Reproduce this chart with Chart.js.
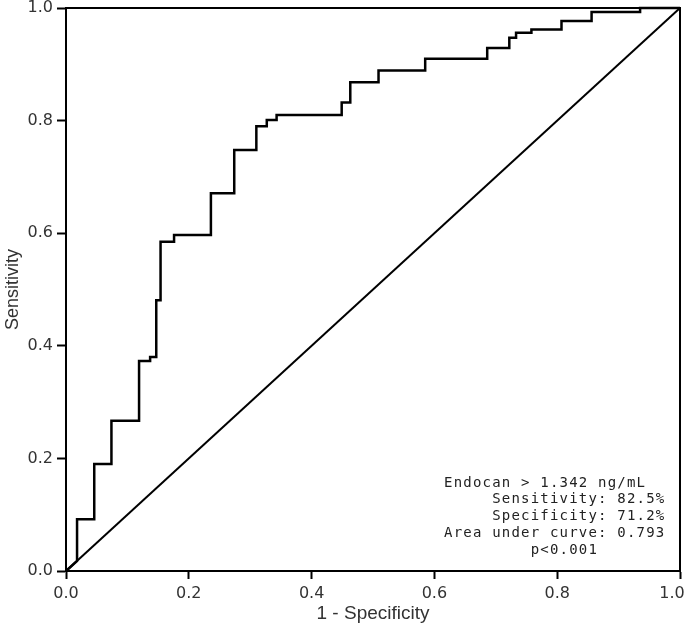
<!DOCTYPE html>
<html>
<head>
<meta charset="utf-8">
<script src="https://cdn.jsdelivr.net/npm/chart.js@4.4.1/dist/chart.umd.min.js"></script>
<style>
  html, body { margin: 0; padding: 0; background: #fff; }
  #wrap { width: 685px; height: 629px; }
</style>
</head>
<body>
<div id="wrap"><canvas id="c" width="685" height="629"></canvas></div>
<script>
// ROC curve corner points (1 - specificity, sensitivity)
const fpr = [0, 0.018, 0.018, 0.046, 0.046, 0.074, 0.074, 0.119, 0.119, 0.137, 0.137, 0.147, 0.147, 0.154, 0.154, 0.176, 0.176, 0.236, 0.236, 0.274, 0.274, 0.310, 0.310, 0.327, 0.327, 0.343, 0.343, 0.449, 0.449, 0.463, 0.463, 0.509, 0.509, 0.585, 0.585, 0.686, 0.686, 0.722, 0.722, 0.733, 0.733, 0.758, 0.758, 0.807, 0.807, 0.856, 0.856, 0.935, 0.935, 1.0];
const tpr = [0, 0.018, 0.092, 0.092, 0.190, 0.190, 0.267, 0.267, 0.373, 0.373, 0.380, 0.380, 0.481, 0.481, 0.585, 0.585, 0.597, 0.597, 0.671, 0.671, 0.748, 0.748, 0.790, 0.790, 0.801, 0.801, 0.810, 0.810, 0.832, 0.832, 0.868, 0.868, 0.889, 0.889, 0.910, 0.910, 0.929, 0.929, 0.947, 0.947, 0.956, 0.956, 0.962, 0.962, 0.977, 0.977, 0.993, 0.993, 1.0, 1.0];
// Reference (chance) line
const refX = [0, 1];
const refY = [0, 1];
// Axis ticks
const xTickValues = [0, 0.2, 0.4, 0.6, 0.8, 1.0];
const yTickValues = [0, 0.2, 0.4, 0.6, 0.8, 1.0];
const xTitle = '1 - Specificity';
const yTitle = 'Sensitivity';
// Annotation text (monospaced block)
const annotationLines = [
  'Endocan > 1.342 ng/mL',
  '     Sensitivity: 82.5%',
  '     Specificity: 71.2%',
  'Area under curve: 0.793',
  '         p<0.001'
];

const rocData = fpr.map((x, i) => ({ x: x, y: tpr[i] }));
const refData = refX.map((x, i) => ({ x: x, y: refY[i] }));

const framePlugin = {
  id: 'frameAndText',
  afterDraw(chart) {
    const { ctx, chartArea: a } = chart;
    ctx.save();
    ctx.strokeStyle = '#000';
    ctx.lineWidth = 2;
    ctx.beginPath();
    ctx.moveTo(a.left, a.top);
    ctx.lineTo(a.right, a.top);
    ctx.lineTo(a.right, a.bottom);
    ctx.stroke();
    ctx.fillStyle = '#222';
    ctx.font = '14px "DejaVu Sans Mono", "Liberation Mono", monospace';
    try { ctx.letterSpacing = '1.2px'; } catch (e) {}
    ctx.textAlign = 'left';
    ctx.textBaseline = 'alphabetic';
    const x0 = 444, y0 = 486.5, dy = 16.9;
    annotationLines.forEach((t, i) => ctx.fillText(t, x0, y0 + i * dy));
    ctx.restore();
  }
};

new Chart(document.getElementById('c'), {
  type: 'scatter',
  data: {
    datasets: [
      {
        label: 'ROC',
        data: rocData,
        showLine: true,
        borderColor: '#000',
        borderWidth: 2.5,
        pointRadius: 0,
        fill: false,
        tension: 0,
        clip: false
      },
      {
        label: 'Reference',
        data: refData,
        showLine: true,
        borderColor: '#000',
        borderWidth: 2,
        pointRadius: 0,
        fill: false,
        clip: false
      }
    ]
  },
  plugins: [framePlugin],
  options: {
    responsive: false,
    animation: false,
    events: [],
    layout: { padding: { top: 8, right: 5, left: 0, bottom: 0 } },
    plugins: { legend: { display: false }, tooltip: { enabled: false } },
    scales: {
      x: {
        type: 'linear',
        min: 0, max: 1,
        afterBuildTicks(scale) { scale.ticks = xTickValues.map(v => ({ value: v })); },
        afterFit(scale) { scale.height = 58; scale.paddingLeft = 0; scale.paddingRight = 0; },
        ticks: {
          // the last label is kept inside the picture, as in the original
          callback: v => Number(v).toFixed(1) + (v >= 1 ? '\u2002\u2002' : ''),
          color: '#333',
          font: { family: '"DejaVu Sans", sans-serif', size: 16 },
          padding: 5,
          maxRotation: 0
        },
        grid: { drawOnChartArea: false, drawTicks: true, tickLength: 8, tickColor: '#000', tickWidth: 2 },
        border: { display: true, color: '#000', width: 2 },
        title: {
          display: true, text: xTitle, color: '#333',
          font: { family: '"Liberation Sans", Arial, sans-serif', size: 19 },
          padding: { top: 0, bottom: 4 }
        }
      },
      y: {
        type: 'linear',
        min: 0, max: 1,
        afterBuildTicks(scale) { scale.ticks = yTickValues.map(v => ({ value: v })); },
        afterFit(scale) { scale.width = 66; scale.paddingTop = 0; scale.paddingBottom = 0; },
        ticks: {
          callback: v => Number(v).toFixed(1),
          color: '#333',
          font: { family: '"DejaVu Sans", sans-serif', size: 16 },
          padding: 4
        },
        grid: { drawOnChartArea: false, drawTicks: true, tickLength: 9, tickColor: '#000', tickWidth: 2 },
        border: { display: true, color: '#000', width: 2 },
        title: {
          display: true, text: yTitle, color: '#333',
          font: { family: '"Liberation Sans", Arial, sans-serif', size: 18 },
          padding: { top: 2, bottom: 0 }
        }
      }
    }
  }
});
</script>
</body>
</html>
